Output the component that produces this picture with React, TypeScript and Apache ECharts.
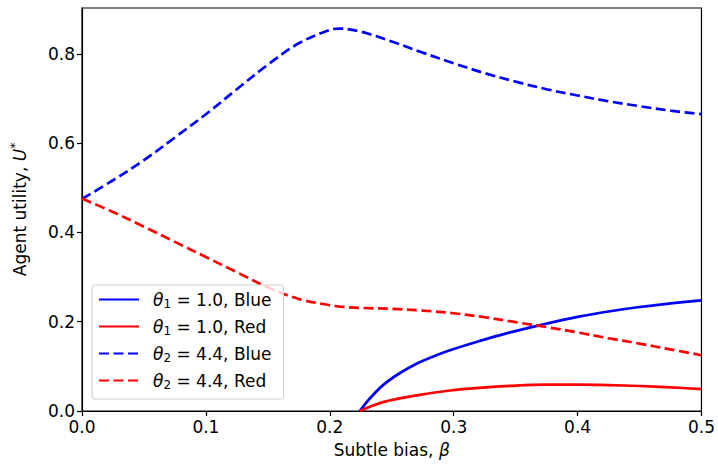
import React, { useEffect, useRef } from "react";
import * as echarts from "echarts";

const xDashed = [0, 0.025, 0.05, 0.075, 0.1, 0.125, 0.15, 0.175, 0.2, 0.208, 0.225, 0.25, 0.275, 0.3, 0.325, 0.35, 0.375, 0.4, 0.425, 0.45, 0.475, 0.5];
const theta2Blue = [0.475, 0.517, 0.562, 0.613, 0.665, 0.721, 0.776, 0.824, 0.854, 0.857, 0.850, 0.828, 0.803, 0.779, 0.757, 0.738, 0.721, 0.707, 0.694, 0.683, 0.673, 0.665];
const theta2Red = [0.476, 0.446, 0.413, 0.379, 0.345, 0.311, 0.277, 0.251, 0.237, 0.234, 0.231, 0.229, 0.225, 0.219, 0.21, 0.199, 0.188, 0.176, 0.163, 0.151, 0.138, 0.125];

const xSolidBlue = [0.2242, 0.2323, 0.243, 0.256, 0.27, 0.285, 0.3, 0.321, 0.3425, 0.369, 0.4, 0.425, 0.45, 0.475, 0.5];
const theta1Blue = [0, 0.028, 0.058, 0.084, 0.106, 0.124, 0.139, 0.157, 0.174, 0.192, 0.211, 0.223, 0.233, 0.241, 0.248];
const xSolidRed = [0.2242, 0.243, 0.27, 0.297, 0.321, 0.35, 0.375, 0.4, 0.425, 0.45, 0.475, 0.5];
const theta1Red = [0, 0.02, 0.035, 0.046, 0.052, 0.057, 0.059, 0.059, 0.058, 0.056, 0.053, 0.049];

const seriesNames = ["θ1 = 1.0, Blue", "θ1 = 1.0, Red", "θ2 = 4.4, Blue", "θ2 = 4.4, Red"];

const zip = (xs: number[], ys: number[]) => xs.map((x, i) => [x, ys[i]]);

const FONT = "DejaVu Sans";

export default function App() {
  const ref = useRef<HTMLDivElement>(null);
  useEffect(() => {
    if (!ref.current) return;
    const chart = echarts.init(ref.current, null, { renderer: "svg" });
    const mk = (name: string, data: number[][], color: string, dashed: boolean) => ({
      name,
      type: "line",
      data,
      smooth: 0.35,
      showSymbol: false,
      symbol: "none",
      clip: true,
      lineStyle: { color, width: 2.7, type: dashed ? [10, 4.5] : "solid" },
      itemStyle: { color },
    });
    chart.setOption({
      animation: false,
      textStyle: { fontFamily: FONT },
      grid: { left: 82, right: 16, top: 8, bottom: 56, show: true, borderColor: "#000", borderWidth: 1.2, backgroundColor: "transparent" },
      legend: {
        left: 92,
        top: 285,
        orient: "vertical",
        itemWidth: 40,
        itemHeight: 20,
        itemGap: 8,
        padding: [6, 12, 8, 6],
        borderColor: "#ccc",
        borderWidth: 1,
        borderRadius: 3,
        backgroundColor: "rgba(255,255,255,0.8)",
        itemStyle: { color: "transparent", borderColor: "transparent", borderWidth: 0, opacity: 0 },
        data: seriesNames,
        formatter: (n: string) => {
          const m = n.match(/θ(\d) (.*)$/);
          if (!m) return n;
          return "{i|θ}{s|" + m[1] + "}{t| " + m[2] + "}";
        },
        textStyle: {
          fontFamily: FONT,
          fontSize: 17,
          color: "#000",
          padding: [0, 0, 0, 9],
          rich: {
            i: { fontFamily: FONT, fontStyle: "italic", fontSize: 17, color: "#000" },
            s: { fontFamily: FONT, fontSize: 12, color: "#000", padding: [9, 0, 0, 0] },
            t: { fontFamily: FONT, fontSize: 17, color: "#000" },
          },
        },
      },
      xAxis: {
        type: "value",
        min: 0,
        max: 0.5,
        interval: 0.1,
        name: "Subtle bias, {i|β}",
        nameLocation: "middle",
        nameGap: 30,
        nameTextStyle: {
          fontFamily: FONT,
          fontSize: 17,
          color: "#000",
          rich: { i: { fontFamily: FONT, fontStyle: "italic", fontSize: 17, color: "#000" } },
        },
        axisLine: { show: true, onZero: false, lineStyle: { color: "#000", width: 1.2 } },
        axisTick: { show: true, inside: false, length: 5, lineStyle: { color: "#000", width: 1.2 } },
        axisLabel: { fontFamily: FONT, fontSize: 17, color: "#000", margin: 7, formatter: (v: number) => v.toFixed(1) },
        splitLine: { show: false },
      },
      yAxis: {
        type: "value",
        min: 0,
        max: 0.903,
        interval: 0.2,
        name: "Agent utility, {i|U}{s|*}",
        nameLocation: "middle",
        nameGap: 52,
        nameTextStyle: {
          fontFamily: FONT,
          fontSize: 17,
          color: "#000",
          rich: {
            i: { fontFamily: FONT, fontStyle: "italic", fontSize: 17, color: "#000" },
            s: { fontFamily: FONT, fontSize: 12, color: "#000", padding: [0, 0, 9, 0] },
          },
        },
        axisLine: { show: true, onZero: false, lineStyle: { color: "#000", width: 1.2 } },
        axisTick: { show: true, inside: false, length: 5, lineStyle: { color: "#000", width: 1.2 } },
        axisLabel: { fontFamily: FONT, fontSize: 17, color: "#000", margin: 7, showMaxLabel: false, formatter: (v: number) => v.toFixed(1) },
        splitLine: { show: false },
      },
      series: [
        mk(seriesNames[0], zip(xSolidBlue, theta1Blue), "#0000ff", false),
        mk(seriesNames[1], zip(xSolidRed, theta1Red), "#ff0000", false),
        mk(seriesNames[2], zip(xDashed, theta2Blue), "#0000ff", true),
        mk(seriesNames[3], zip(xDashed, theta2Red), "#ff0000", true),
      ],
    });
    return () => chart.dispose();
  }, []);
  return <div ref={ref} style={{ width: 718, height: 467, position: "absolute", left: 0, top: 0 }} />;
}
